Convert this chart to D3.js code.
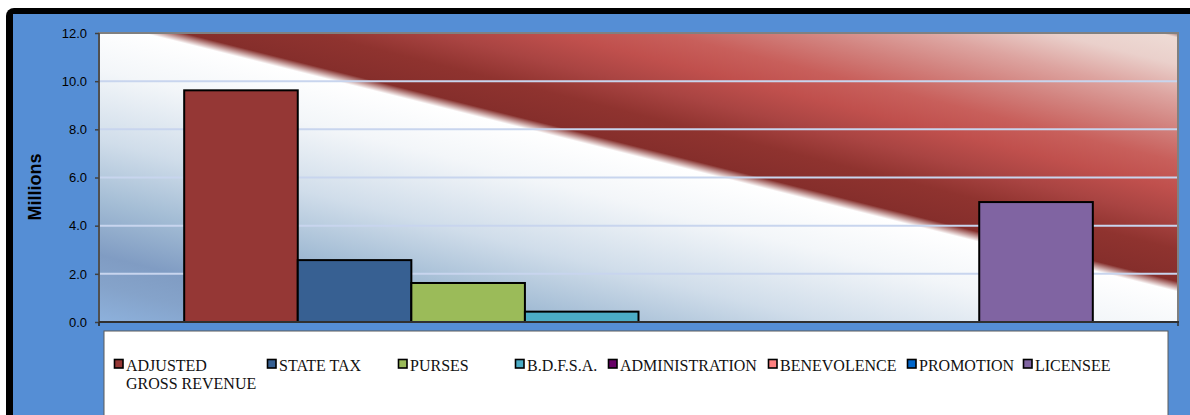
<!DOCTYPE html>
<html>
<head>
<meta charset="utf-8">
<script src="https://cdn.jsdelivr.net/npm/d3@7"></script>
<style>
  html, body { margin: 0; padding: 0; background: #fff; }
  svg { display: block; }
</style>
</head>
<body>
<div id="chart"></div>
<script>
var seriesNames  = ['ADJUSTED GROSS REVENUE', 'STATE TAX', 'PURSES', 'B.D.F.S.A.', 'ADMINISTRATION', 'BENEVOLENCE', 'PROMOTION', 'LICENSEE'];
var seriesValues = [9.62, 2.57, 1.62, 0.43, 0, 0, 0, 4.98];
var seriesColors = ['#953735', '#376092', '#9BBB59', '#4BACC6', '#660066', '#FF8080', '#0066CC', '#8064A2'];
var yTicks       = [0, 2, 4, 6, 8, 10, 12];
var yLabel       = 'Millions';

(function () {
  var W = 1190, H = 415;
  var plot = { left: 99, top: 33, right: 1178, bottom: 322 };

  var svg = d3.select('#chart').append('svg')
    .attr('width', W).attr('height', H)
    .style('font-family', 'Liberation Sans, Arial, sans-serif');

  // outer frame: black border with blue fill, clipped by the window at right/bottom
  svg.append('rect').attr('x', 6).attr('y', 8).attr('width', W + 20).attr('height', H + 20)
    .attr('rx', 8).attr('fill', '#000');
  svg.append('rect').attr('x', 13).attr('y', 14).attr('width', W + 20).attr('height', H + 20)
    .attr('fill', '#558ED5');

  // plot area gradient, stripes run with slope 0.25
  var slope = 0.25;
  var cx = (plot.left + plot.right) / 2, cy = (plot.top + plot.bottom) / 2;
  var sC = cy - slope * (cx - plot.left);
  var nLen = Math.sqrt(1 + slope * slope);
  var nx = -slope / nLen, ny = 1 / nLen;
  var dsdt = (slope * slope + 1) / nLen;
  var sMin = -240, sMax = 330;
  var tA = (sMin - sC) / dsdt, tB = (sMax - sC) / dsdt;

  var stops = [
    [-240, '#6B2623'], [-232, '#EEDBD5'], [-205, '#EAD0CB'], [-172, '#DDA4A0'],
    [-142, '#D2837F'], [-108, '#C85F5B'], [-80, '#C0504D'], [-50, '#A94442'],
    [-20, '#8F332F'], [6, '#872F2C'], [12, '#852E2B'], [22, '#FFFFFF'],
    [70, '#F3F6F9'], [140, '#D0DDEA'], [200, '#A4BDD5'], [255, '#809CC3'],
    [285, '#85A3CA'], [330, '#8FB4E0']
  ];

  var defs = svg.append('defs');
  var grad = defs.append('linearGradient').attr('id', 'plotGrad')
    .attr('gradientUnits', 'userSpaceOnUse')
    .attr('x1', cx + tA * nx).attr('y1', cy + tA * ny)
    .attr('x2', cx + tB * nx).attr('y2', cy + tB * ny);
  grad.selectAll('stop').data(stops).join('stop')
    .attr('offset', function (d) { return (d[0] - sMin) / (sMax - sMin); })
    .attr('stop-color', function (d) { return d[1]; });

  svg.append('rect')
    .attr('x', plot.left).attr('y', plot.top)
    .attr('width', plot.right - plot.left).attr('height', plot.bottom - plot.top)
    .attr('fill', 'url(#plotGrad)');

  var y = d3.scaleLinear().domain([0, 12]).range([plot.bottom, plot.top]);

  var x = d3.scaleBand().domain(seriesNames)
    .range([plot.left, plot.right]).paddingInner(0).paddingOuter(0.75);

  // gridlines
  svg.append('g').selectAll('line')
    .data(yTicks.filter(function (d) { return d > 0 && d < 12; }))
    .join('line')
    .attr('x1', plot.left).attr('x2', plot.right)
    .attr('y1', function (d) { return y(d); }).attr('y2', function (d) { return y(d); })
    .attr('stroke', '#C8D5EE').attr('stroke-width', 2);

  // plot border
  svg.append('rect')
    .attr('x', plot.left).attr('y', plot.top)
    .attr('width', plot.right - plot.left).attr('height', plot.bottom - plot.top)
    .attr('fill', 'none').attr('stroke', '#808080').attr('stroke-width', 2);

  // bars
  svg.append('g').selectAll('rect')
    .data(seriesValues)
    .join('rect')
    .attr('x', function (d, i) { return x(seriesNames[i]); })
    .attr('y', function (d) { return y(d); })
    .attr('width', x.bandwidth())
    .attr('height', function (d) { return y(0) - y(d); })
    .attr('fill', function (d, i) { return seriesColors[i]; })
    .attr('stroke', '#000').attr('stroke-width', 2);

  // y axis
  var yAxis = svg.append('g')
    .attr('transform', 'translate(' + plot.left + ',0)')
    .call(d3.axisLeft(y).tickValues(yTicks).tickFormat(d3.format('.1f')).tickSize(4).tickPadding(8));
  yAxis.select('.domain').attr('stroke', '#404040').attr('stroke-width', 1.5)
    .attr('d', 'M0,' + plot.top + 'V' + (plot.bottom + 4));
  yAxis.selectAll('.tick line').attr('stroke', '#404040').attr('stroke-width', 1.5);
  yAxis.selectAll('.tick text').attr('fill', '#000').style('font-size', '13px');

  // category axis
  var xr = x.range();
  var xAxis = svg.append('g');
  xAxis.append('line')
    .attr('x1', xr[0]).attr('x2', xr[1] + 1)
    .attr('y1', plot.bottom).attr('y2', plot.bottom)
    .attr('stroke', '#303030').attr('stroke-width', 2);
  xAxis.selectAll('line.tk').data(xr).join('line').attr('class', 'tk')
    .attr('x1', function (d) { return d; }).attr('x2', function (d) { return d; })
    .attr('y1', plot.bottom).attr('y2', plot.bottom + 4)
    .attr('stroke', '#303030').attr('stroke-width', 1.5);

  // axis title
  svg.append('text')
    .attr('transform', 'translate(41,187) rotate(-90)')
    .attr('text-anchor', 'middle')
    .style('font-size', '18px').style('font-weight', 'bold')
    .attr('fill', '#000')
    .text(yLabel);

  // legend
  var legendX = [114, 267, 398, 515, 608, 768, 907, 1023];
  var lg = svg.append('g');
  lg.append('rect').attr('x', 104).attr('y', 331).attr('width', 1064).attr('height', 120)
    .attr('fill', '#fff').attr('stroke', '#5A5A5A').attr('stroke-width', 1);

  var items = lg.selectAll('g.item').data(seriesNames).join('g').attr('class', 'item')
    .attr('transform', function (d, i) { return 'translate(' + legendX[i] + ',0)'; });
  items.append('rect')
    .attr('x', 0.5).attr('y', 359.5).attr('width', 8.5).attr('height', 8.5)
    .attr('fill', function (d, i) { return seriesColors[i]; })
    .attr('stroke', '#000').attr('stroke-width', 1.6);
  items.append('text')
    .attr('x', 12).attr('y', 371)
    .style('font-family', 'Liberation Serif, Times New Roman, serif')
    .style('font-size', '16px').attr('fill', '#111')
    .each(function (d) {
      var t = d3.select(this);
      var parts = d === 'ADJUSTED GROSS REVENUE' ? ['ADJUSTED', 'GROSS REVENUE'] : [d];
      parts.forEach(function (p, k) {
        t.append('tspan').attr('x', 12).attr('dy', k === 0 ? 0 : 18).text(p);
      });
    });
})();
</script>
</body>
</html>
